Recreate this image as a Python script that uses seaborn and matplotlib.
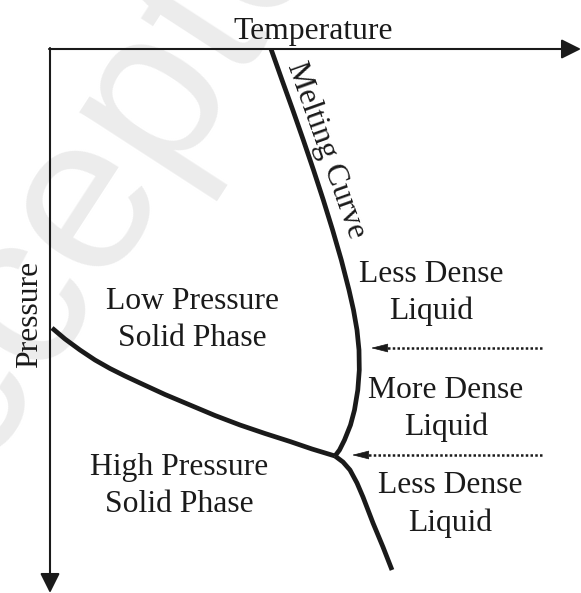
import pandas as pd
import matplotlib.pyplot as plt
import seaborn as sns

# curves (x right, y down, in picture pixels)
melt_x = [271, 282, 292.8, 303.3, 313.5, 323.3, 332.6, 341.3, 349, 353.5, 357, 359, 359.3,
          357.8, 354.5, 350.5, 344.5, 339.5, 335]
melt_y = [49, 80, 110, 140, 170, 200, 230, 260, 290, 310, 330, 350, 370,
          390, 410, 425, 440, 450, 456]
low_x = [52, 65, 80, 95, 110, 125, 140, 165, 190, 215, 240, 265, 290, 312, 335]
low_y = [328, 339, 350, 360, 368.5, 376, 383, 394.5, 405, 415.5, 425, 433.5, 441.5, 449, 456]
high_x = [335, 343, 350, 357, 363, 368, 373, 383, 392]
high_y = [456, 462, 470, 483, 497, 510, 523, 547, 570]

# horizontal dotted pointers: level, start, tip
pointer_y = [348, 455]
pointer_from = [542, 542]
pointer_to = [371, 352]

phase_labels = ["Low Pressure\nSolid Phase", "High Pressure\nSolid Phase",
                "Less Dense\nLiquid", "More Dense\nLiquid", "Less Dense\nLiquid"]

sns.set_style("white")
plt.rcParams['font.family'] = ['Liberation Serif', 'DejaVu Serif']

fig = plt.figure(figsize=(5.81, 5.93), dpi=100)
ax = fig.add_axes([0, 0, 1, 1])
ax.set_xlim(0, 581)
ax.set_ylim(593, 0)
ax.axis('off')

# faint watermark
ax.text(106, 182, "Accepted", fontsize=160, color='#ececec', family='Liberation Sans',
        rotation=57, rotation_mode='anchor', ha='center', va='center', zorder=0)

# axes with arrows
ax.annotate('', xy=(581, 49), xytext=(49, 49),
            arrowprops=dict(arrowstyle='-|>,head_length=0.6,head_width=0.3', lw=1.5,
                            color='#1a1a1a', mutation_scale=20, shrinkA=0, shrinkB=0))
ax.annotate('', xy=(50, 593), xytext=(50, 48),
            arrowprops=dict(arrowstyle='-|>,head_length=0.6,head_width=0.3', lw=1.5,
                            color='#1a1a1a', mutation_scale=20, shrinkA=0, shrinkB=0))

for xs, ys in [(melt_x, melt_y), (low_x, low_y), (high_x, high_y)]:
    df = pd.DataFrame({'x': xs, 'y': ys})
    sns.lineplot(data=df, x='x', y='y', sort=False, color='#1a1a1a', lw=3.4,
                 ax=ax, solid_capstyle='butt', solid_joinstyle='round')

for y, x0, x1 in zip(pointer_y, pointer_from, pointer_to):
    ax.plot([x0, x1 + 10], [y, y], color='#1a1a1a', lw=1.8, ls=(0, (1, 0.9)))
    ax.annotate('', xy=(x1, y), xytext=(x1 + 14, y),
                arrowprops=dict(arrowstyle='-|>,head_length=0.55,head_width=0.14',
                                lw=0.5, color='#1a1a1a', mutation_scale=20,
                                shrinkA=0, shrinkB=0))

ax.set_xlabel('')
ax.set_ylabel('')

fs = 22.8
ax.text(313, 39, "Temperature", fontsize=fs, ha='center', va='baseline', color='#1a1a1a')
ax.text(37, 314, "Pressure", fontsize=fs, rotation=90, rotation_mode='anchor',
        ha='center', va='baseline', color='#1a1a1a')
ax.text(326, 150, "Melting Curve", fontsize=fs, rotation=-70.3, rotation_mode='anchor',
        ha='center', va='center', color='#1a1a1a')

label_pos = [(192, 309), (179, 475), (431, 282), (446, 398), (450, 493)]
for text, (x, y) in zip(phase_labels, label_pos):
    first, second = text.split('\n')
    ax.text(x, y, first, fontsize=fs, ha='center', va='baseline', color='#1a1a1a')
    ax.text(x, y + 37.5, second, fontsize=fs, ha='center', va='baseline', color='#1a1a1a')

fig.savefig('out.png', dpi=100)
